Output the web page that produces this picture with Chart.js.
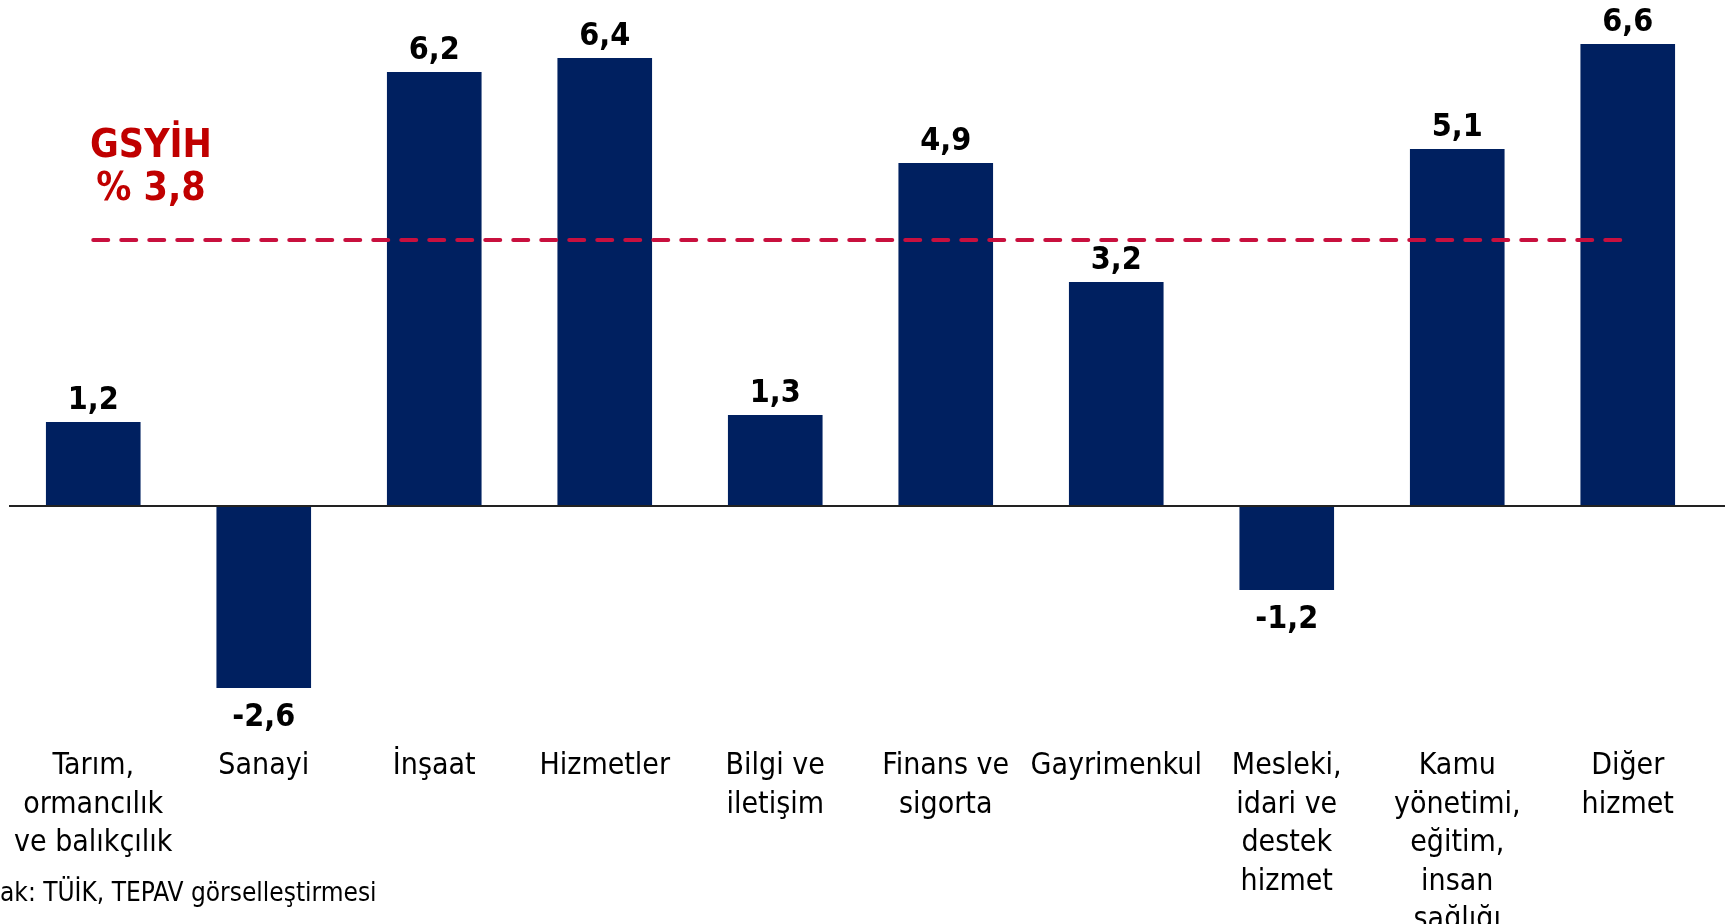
<!DOCTYPE html>
<html lang="tr">
<head>
<meta charset="utf-8">
<title>Sektörel büyüme</title>
<script src="https://cdn.jsdelivr.net/npm/chart.js@4/dist/chart.umd.min.js"></script>
<style>
    html, body { margin: 0; padding: 0; background: #fff; overflow: hidden; }
    #wrap { position: relative; width: 1725px; height: 939px; }
    #source {
        position: absolute; left: 0; top: 877px;
        font-family: 'DejaVu Sans Condensed', 'DejaVu Sans', sans-serif;
        font-size: 26px; color: #000; white-space: nowrap;
    }
</style>
</head>
<body>
<div id="wrap">
    <canvas id="growthChart"></canvas>
    <div id="source">ak: TÜİK, TEPAV görselleştirmesi</div>
</div>
<script>
var FONT = "'DejaVu Sans Condensed', 'DejaVu Sans', sans-serif";

var categories = [
    ['Tarım,', 'ormancılık', 've balıkçılık'],
    'Sanayi',
    'İnşaat',
    'Hizmetler',
    ['Bilgi ve', 'iletişim'],
    ['Finans ve', 'sigorta'],
    'Gayrimenkul',
    ['Mesleki,', 'idari ve', 'destek', 'hizmet'],
    ['Kamu', 'yönetimi,', 'eğitim,', 'insan', 'sağlığı'],
    ['Diğer', 'hizmet']
];
var growth = [1.2, -2.6, 6.2, 6.4, 1.3, 4.9, 3.2, -1.2, 5.1, 6.6];
var gdpGrowth = 3.8;
var gdpLines = ['GSYİH', '% 3,8'];

function fmt(v) {
    return v.toFixed(1).replace('.', ',');
}

// zero line, value labels above/below bars, GDP annotation text
var labelPlugin = {
    id: 'labelPlugin',
    afterDatasetsDraw: function(chart) {
        var ctx = chart.ctx;
        var meta = chart.getDatasetMeta(1);
        var zeroY = chart.scales.y.getPixelForValue(0);
        ctx.save();
        ctx.strokeStyle = '#222';
        ctx.lineWidth = 2;
        ctx.beginPath();
        ctx.moveTo(9, zeroY);
        ctx.lineTo(chart.width, zeroY);
        ctx.stroke();

        ctx.font = 'bold 32px ' + FONT;
        ctx.fillStyle = '#000';
        ctx.textAlign = 'center';
        ctx.textBaseline = 'alphabetic';
        meta.data.forEach(function(bar, i) {
            var v = growth[i];
            var y = v >= 0 ? bar.y - 13 : bar.y + 38;
            ctx.fillText(fmt(v), bar.x, y);
        });

        var lineY = chart.scales.y.getPixelForValue(gdpGrowth);
        ctx.font = 'bold 39px ' + FONT;
        ctx.fillStyle = '#C00000';
        ctx.textBaseline = 'middle';
        ctx.fillText(gdpLines[0], 151, lineY - 93);
        ctx.fillText(gdpLines[1], 151, lineY - 50);
        ctx.restore();
    }
};

var chart = new Chart(document.getElementById('growthChart'), {
    type: 'bar',
    data: {
        labels: categories,
        datasets: [
            {
                type: 'line',
                label: 'GSYİH',
                data: categories.map(function() { return gdpGrowth; }),
                borderColor: '#C8103E',
                borderWidth: 4,
                borderDash: [15, 13],
                borderCapStyle: 'round',
                pointRadius: 0,
                fill: false,
                order: 0
            },
            {
                label: 'Büyüme',
                data: growth,
                backgroundColor: '#002060',
                borderWidth: 0,
                categoryPercentage: 1,
                barPercentage: 0.555,
                order: 1
            }
        ]
    },
    options: {
        responsive: true,
        maintainAspectRatio: false,
        animation: false,
        layout: { padding: { left: 8, right: 12, top: 0, bottom: 0 } },
        plugins: {
            legend: { display: false },
            tooltip: { enabled: false }
        },
        scales: {
            x: {
                grid: { display: false, drawTicks: false },
                border: { display: false },
                afterFit: function(s) {
                    s.height = 209;
                    s.paddingLeft = 0;
                    s.paddingRight = 0;
                },
                ticks: {
                    color: '#000',
                    font: { family: FONT, size: 30, lineHeight: 1.283 },
                    padding: 17,
                    autoSkip: false,
                    maxRotation: 0,
                    minRotation: 0
                }
            },
            y: {
                display: false,
                min: -3.2,
                max: 7.2286
            }
        }
    },
    plugins: [labelPlugin]
});
</script>
</body>
</html>
